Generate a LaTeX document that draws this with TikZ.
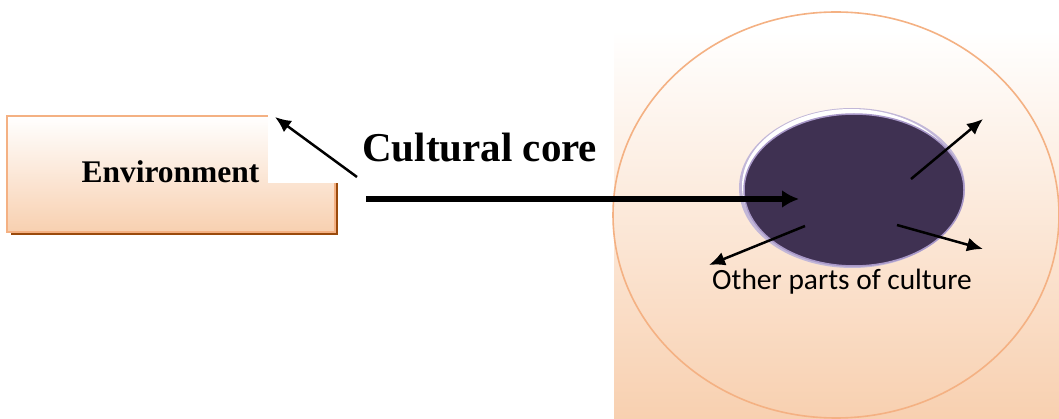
\documentclass[tikz,border=0pt]{standalone}
\usepackage{fontspec}
\setmainfont{Liberation Serif}
\newfontfamily\calib{Carlito}
\usetikzlibrary{arrows.meta,shapes.geometric}
\definecolor{peachline}{HTML}{F4B183}
\definecolor{peachfill}{HTML}{F8D0B0}
\definecolor{shadowbrown}{HTML}{9A4A0C}
\definecolor{coredark}{HTML}{3F3152}
\definecolor{corerim}{HTML}{A898C8}
\tikzset{
  thinarrow/.style={draw=black, line width=2.5pt, -{Latex[length=16pt,width=14pt]}},
  thickarrow/.style={draw=black, line width=6pt, -{Latex[length=17pt,width=18pt]}},
}
\begin{document}
\begin{tikzpicture}[x=1pt,y=1pt]
\useasboundingbox (0,0) rectangle (1059,-419);
% right panel
\shade[top color=white, bottom color=peachfill] (614,-30) rectangle (1059,-419);
\draw[peachline, line width=1.6pt] (836,-215) ellipse [x radius=223, y radius=203];
% core ellipse
\fill[corerim!70] (852,-188) ellipse [x radius=113, y radius=80];
\fill[white] (851,-186) ellipse [x radius=109, y radius=77];
\node[ellipse, inner sep=0, minimum width=220pt, minimum height=152pt, fill=coredark, draw=corerim, line width=1.5pt] (core) at (854,-190) {};
% environment box
\fill[shadowbrown] (11,-119) rectangle (338,-235);
\shade[top color=white, bottom color=peachfill, draw=peachline, line width=2pt] (7,-116) rectangle (335,-232);
\fill[white] (268,-95) rectangle (605,-183);
\node[anchor=base, font=\bfseries\fontsize{31.5}{36}\selectfont, inner sep=0] (env) at (170.5,-183) {Environment};
\node[anchor=base west, font=\bfseries\fontsize{41}{48}\selectfont, inner sep=0] (cc) at (362,-162) {Cultural core};
\node[anchor=base west, font=\calib\fontsize{29.4}{34}\selectfont, inner sep=0] (other) at (712,-290) {Other parts of culture};
% arrows
\coordinate (a1s) at (357,-177);
\coordinate (a1e) at (275,-117);
\draw[thinarrow] (a1s) -- (a1e);
\coordinate (a2s) at (366,-199);
\coordinate (a2e) at (799,-199);
\draw[thickarrow] (a2s) -- (a2e);
\coordinate (a3s) at (911,-179);
\coordinate (a3e) at (983,-119);
\draw[thinarrow] (a3s) -- (a3e);
\coordinate (a4s) at (897,-225);
\coordinate (a4e) at (983,-249);
\draw[thinarrow] (a4s) -- (a4e);
\coordinate (a5s) at (805,-226);
\coordinate (a5e) at (709,-265);
\draw[thinarrow] (a5s) -- (a5e);
\end{tikzpicture}
\end{document}
